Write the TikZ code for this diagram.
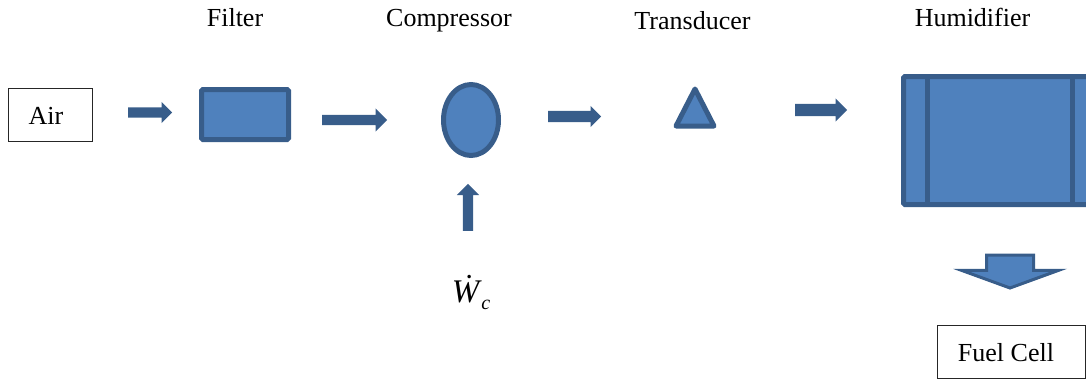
\documentclass[tikz,border=0pt]{standalone}
\usepackage{fontspec}
\setmainfont{Liberation Serif}
\usetikzlibrary{shapes.geometric,shapes.arrows,positioning}
\definecolor{boxblue}{HTML}{4F81BD}
\definecolor{edgeblue}{HTML}{385D8A}

\begin{document}
\begin{tikzpicture}[x=1pt,y=1pt,
    font=\fontsize{26}{30}\selectfont,
    label/.style={inner sep=0pt,anchor=base},
    plainbox/.style={draw=black!85,line width=1pt,inner sep=0pt},
    part/.style={draw=edgeblue,fill=boxblue,line width=5pt,inner sep=0pt,rounded corners=1.5pt},
    flow/.style={single arrow,fill=edgeblue,draw=none,inner sep=0pt,anchor=tail}]
  \useasboundingbox (0,0) rectangle (1086,-380);

  % labels on top
  \node[label] (lfilter) at (235,-26) {Filter};
  \node[label] (lcomp)   at (449,-26) {Compressor};
  \node[label] (ltrans)  at (692.5,-29) {Transducer};
  \node[label] (lhum)    at (972.5,-26) {Humidifier};

  % the train of parts
  \node[plainbox,minimum width=84pt,minimum height=53pt] (air) at (50,-114.5) {};
  \node[label] (airtxt) at (46,-124) {Air};
  \node[part,minimum width=87pt,minimum height=50pt] (filter) at (245,-114.5) {};
  \node[part,ellipse,minimum width=55pt,minimum height=71pt] (comp) at (471,-120) {};
  \draw[part,line join=round,rounded corners=0pt] (695,-89) -- (714,-126) -- (676,-126) -- cycle;
  \coordinate (trans) at (695,-110);
  \draw[part] (903.5,-76.5) rectangle (1095,-204.5);
  \draw[edgeblue,line width=5pt] (927,-76.5) -- (927,-204.5)
                                 (1072,-76.5) -- (1072,-204.5);
  \coordinate (hum) at (995,-140);
  \node[plainbox,minimum width=148pt,minimum height=53pt] (cell) at (1011,-351.5) {};
  \node[label] (celltxt) at (1006,-361) {Fuel Cell};

  % block arrows
  \node[flow,minimum height=44pt,inner ysep=5pt,single arrow head extend=5.5pt] (a1) at (128,-112.5) {};
  \node[flow,minimum height=65pt,inner ysep=5pt,single arrow head extend=6.5pt] (a2) at (322,-120) {};
  \node[flow,minimum height=53pt,inner ysep=5.5pt,single arrow head extend=5pt] (a3) at (548,-116.5) {};
  \node[flow,minimum height=52pt,inner ysep=6pt,single arrow head extend=5.5pt] (a4) at (795,-110) {};
  \node[flow,rotate=90,minimum height=47pt,inner ysep=5pt,single arrow head extend=6pt] (work) at (468,-231) {};
  \node[flow,rotate=-90,fill=boxblue,draw=edgeblue,line width=3pt,minimum height=33pt,
        inner ysep=22pt,single arrow head extend=25pt,single arrow tip angle=140] (out) at (1010,-253.5) {};

  % shaft work
  \node[label,font=\fontsize{33}{36}\selectfont\itshape] (wc) at (471,-302)
    {W^^^^0307\kern2pt\raisebox{-7pt}{\fontsize{20}{22}\selectfont c}};
\end{tikzpicture}
\end{document}
